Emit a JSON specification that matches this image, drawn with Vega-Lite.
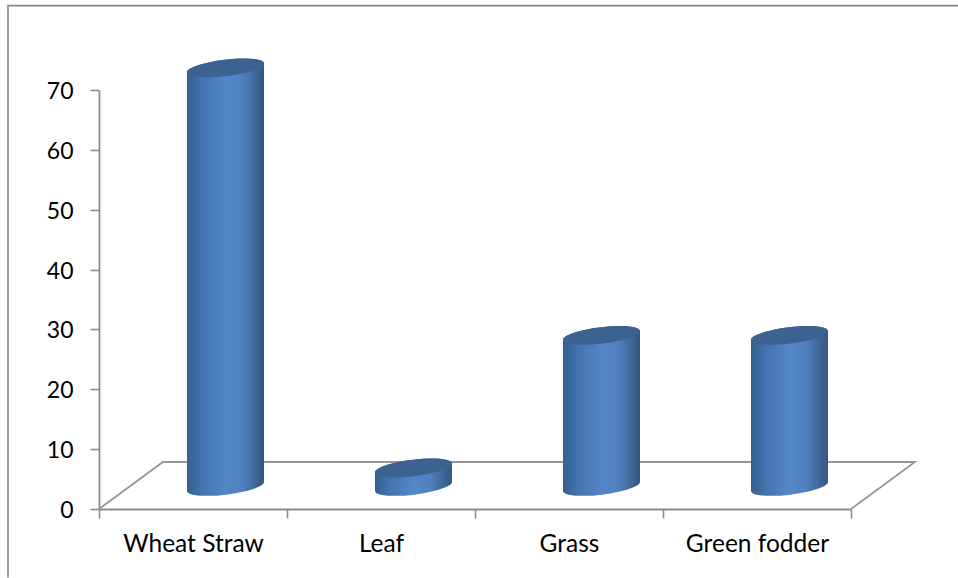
{
"$schema":"https://vega.github.io/schema/vega-lite/v6.json",
"width":752,"height":419,
"autosize":{"type":"none"},
"padding":{"left":99,"top":90,"right":107,"bottom":69},
"background":"#ffffff",
"config":{"view":{"stroke":null},"font":"Lato"},
"datasets":{
"bars":[
{"category":"Wheat Straw","top":73.7,"base":3.76},
{"category":"Leaf","top":6.85,"base":3.76},
{"category":"Grass","top":29.0,"base":3.76},
{"category":"Green fodder","top":29.0,"base":3.76}
],
"floor":[
{"order":1,"px":0,"py":0},{"order":2,"px":0.34,"py":7.85},{"order":3,"px":4.34,"py":7.85},{"order":4,"px":4,"py":0}
],
"frame":[
{"order":1,"px":-0.484,"py":-11.5},{"order":2,"px":-0.484,"py":84.1},{"order":3,"px":4.57,"py":84.1}
]
},
"resolve":{"scale":{"x":"independent"}},
"layer":[
{"data":{"name":"frame"},
"mark":{"type":"line","stroke":"#868686","strokeWidth":1.6,"clip":false},
"encoding":{"x":{"field":"px","type":"quantitative","scale":{"domain":[0,4],"nice":false,"zero":false},"axis":null},
"y":{"field":"py","type":"quantitative","scale":{"domain":[0,70],"nice":false},
"axis":{"title":null,"values":[0,10,20,30,40,50,60,70],"grid":false,"domainColor":"#8c8c8c","domainWidth":1.8,"tickColor":"#8c8c8c","tickWidth":1.6,"tickSize":9,"labelFont":"Lato","labelFontSize":23,"labelColor":"#000000","labelPadding":17,"labelOffset":1.5}},
"order":{"field":"order"}}},
{"data":{"name":"floor"},
"mark":{"type":"line","stroke":"#969696","strokeWidth":1.8,"clip":false},
"encoding":{"x":{"field":"px","type":"quantitative","scale":{"domain":[0,4],"nice":false,"zero":false},"axis":null},
"y":{"field":"py","type":"quantitative"},
"order":{"field":"order"}}},
{"data":{"name":"bars"},
"mark":{"type":"bar","width":{"band":0.4096},"xOffset":32.5,"yOffset":8,"y2Offset":-6,
"fill":{"x1":0,"y1":0,"x2":1,"y2":0,"gradient":"linear","stops":[{"offset":0,"color":"#34608f"},{"offset":0.2,"color":"#4473b0"},{"offset":0.5,"color":"#5487c8"},{"offset":0.72,"color":"#4f80be"},{"offset":1,"color":"#34567f"}]}},
"encoding":{"x":{"field":"category","type":"nominal","sort":null,"scale":{"type":"band","paddingInner":0,"paddingOuter":0},
"axis":{"title":null,"tickBand":"extent","labelAngle":0,"domainColor":"#8c8c8c","domainWidth":1.8,"tickColor":"#8c8c8c","tickWidth":1.6,"tickSize":9,"labelFont":"Lato","labelFontSize":24.5,"labelColor":"#000000","labelPadding":14}},
"y":{"field":"top","type":"quantitative"},"y2":{"field":"base"}}},
{"data":{"name":"bars"},
"mark":{"type":"point","filled":true,"opacity":1,"size":5929,"xOffset":32.5,
"shape":"M -1 -0.2 L -1 0.1208 A 1.007 0.213 -6.89 1 0 1 -0.1208 L 1 -0.2 Z",
"fill":{"x1":0,"y1":0,"x2":1,"y2":0,"gradient":"linear","stops":[{"offset":0,"color":"#34608f"},{"offset":0.2,"color":"#4473b0"},{"offset":0.5,"color":"#5487c8"},{"offset":0.72,"color":"#4f80be"},{"offset":1,"color":"#34567f"}]}},
"encoding":{"x":{"field":"category","type":"nominal","sort":null,"scale":{"type":"band","paddingInner":0,"paddingOuter":0},"axis":null},
"y":{"field":"base","type":"quantitative"}}},
{"data":{"name":"bars"},
"mark":{"type":"point","filled":true,"opacity":1,"size":5929,"xOffset":32.5,
"shape":"M -1 0.1208 A 1.007 0.213 -6.89 1 1 1 -0.1208 L 1 0.25 L -1 0.25 Z",
"fill":{"x1":0,"y1":0,"x2":1,"y2":0,"gradient":"linear","stops":[{"offset":0,"color":"#34608f"},{"offset":0.2,"color":"#4473b0"},{"offset":0.5,"color":"#5487c8"},{"offset":0.72,"color":"#4f80be"},{"offset":1,"color":"#34567f"}]}},
"encoding":{"x":{"field":"category","type":"nominal","sort":null,"scale":{"type":"band","paddingInner":0,"paddingOuter":0},"axis":null},
"y":{"field":"top","type":"quantitative"}}},
{"data":{"name":"bars"},
"mark":{"type":"point","filled":true,"opacity":1,"size":5929,"xOffset":32.5,"fill":"#3c6290",
"shape":"M -1 0.1208 A 1.007 0.213 -6.89 1 1 1 -0.1208 A 1.007 0.213 -6.89 1 1 -1 0.1208 Z"},
"encoding":{"x":{"field":"category","type":"nominal","sort":null,"scale":{"type":"band","paddingInner":0,"paddingOuter":0},"axis":null},
"y":{"field":"top","type":"quantitative"}}}
]
}
